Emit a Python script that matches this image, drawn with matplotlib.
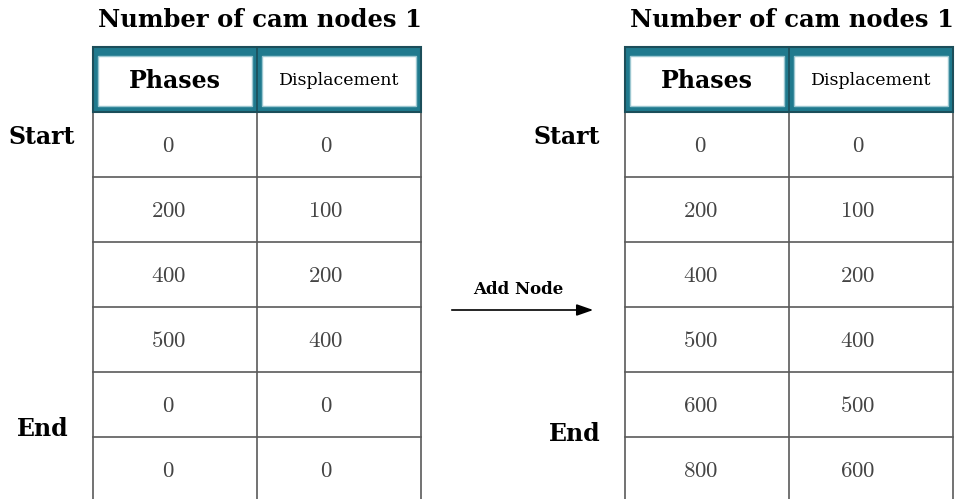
import matplotlib.pyplot as plt
from matplotlib.patches import Rectangle

plt.rcParams["mathtext.fontset"] = "cm"

# table contents
title = "Number of cam nodes 1"
headers = ["Phases", "Displacement"]
phases_before = [0, 200, 400, 500, 0, 0]
disp_before = [0, 100, 200, 400, 0, 0]
phases_after = [0, 200, 400, 500, 600, 800]
disp_after = [0, 100, 200, 400, 500, 600]
arrow_label = "Add Node"

TEAL = "#207a8e"
W, H = 955, 499
HEAD_TOP, HEAD_BOT, ROW_H = 47, 112, 65
COL_W = 164


def draw_table(ax, x0, phases, disp, start_dx, end_dx, end_dy):
    x_mid = x0 + COL_W
    x1 = x0 + 2 * COL_W
    n = len(phases)
    bottom = HEAD_BOT + ROW_H * n

    # title
    ax.text((x0 + x1) / 2 + 3, 20, title, ha="center", va="center",
            fontsize=17.5, fontweight="bold", family="DejaVu Serif")

    # header band
    ax.add_patch(Rectangle((x0, HEAD_TOP), 2 * COL_W, HEAD_BOT - HEAD_TOP,
                           facecolor=TEAL, edgecolor="#1c4e5a", lw=1.5, zorder=2))
    ax.plot([x_mid, x_mid], [HEAD_TOP, HEAD_BOT], color="#1c4e5a", lw=1.2, zorder=3)
    pad = 5
    for i, lab in enumerate(headers):
        bx = x0 + i * COL_W + pad
        ax.add_patch(Rectangle((bx, HEAD_TOP + 9), COL_W - 2 * pad, HEAD_BOT - HEAD_TOP - 15,
                               facecolor="white", edgecolor="#9cc7d1", lw=1, zorder=3))
        ax.text(x0 + i * COL_W + COL_W / 2, (HEAD_TOP + HEAD_BOT) / 2 + 1, lab,
                ha="center", va="center", family="DejaVu Serif",
                fontsize=17 if i == 0 else 12.5, fontweight="bold" if i == 0 else "normal",
                zorder=4)

    # grid lines
    for x in (x0, x_mid, x1):
        ax.plot([x, x], [HEAD_BOT, bottom], color="#5a5a5a", lw=1.2, zorder=1)
    for r in range(1, n):
        y = HEAD_BOT + r * ROW_H
        ax.plot([x0, x1], [y, y], color="#5a5a5a", lw=1.2, zorder=1)

    # values
    for r in range(n):
        yc = HEAD_BOT + r * ROW_H + ROW_H / 2 + 1
        ax.text(x0 + COL_W * 0.46, yc, f"${phases[r]}$", ha="center", va="center",
                fontsize=16.5, color="#444444")
        ax.text(x_mid + COL_W * 0.42, yc, f"${disp[r]}$", ha="center", va="center",
                fontsize=16.5, color="#444444")

    # start / end labels
    ax.text(x0 - start_dx, HEAD_BOT + 25, "Start", ha="right", va="center",
            fontsize=17, fontweight="bold", family="DejaVu Serif")
    ax.text(x0 - end_dx, HEAD_BOT + 4 * ROW_H + end_dy, "End",
            ha="right", va="center", fontsize=17, fontweight="bold", family="DejaVu Serif")


fig = plt.figure(figsize=(W / 100, H / 100), dpi=100)
ax = fig.add_axes([0, 0, 1, 1])
ax.set_xlim(0, W)
ax.set_ylim(H, 0)
ax.axis("off")

draw_table(ax, 93, phases_before, disp_before, 18, 24, 57)
draw_table(ax, 625, phases_after, disp_after, 25, 24, 62)

ax.annotate("", xy=(596, 310), xytext=(449, 310),
            arrowprops=dict(arrowstyle="-|>,head_length=1.0,head_width=0.35",
                            color="black", lw=1.2))
ax.text(518, 289, arrow_label, ha="center", va="center", fontsize=12,
        fontweight="bold", family="DejaVu Serif")

fig.savefig("out.png", dpi=100)
